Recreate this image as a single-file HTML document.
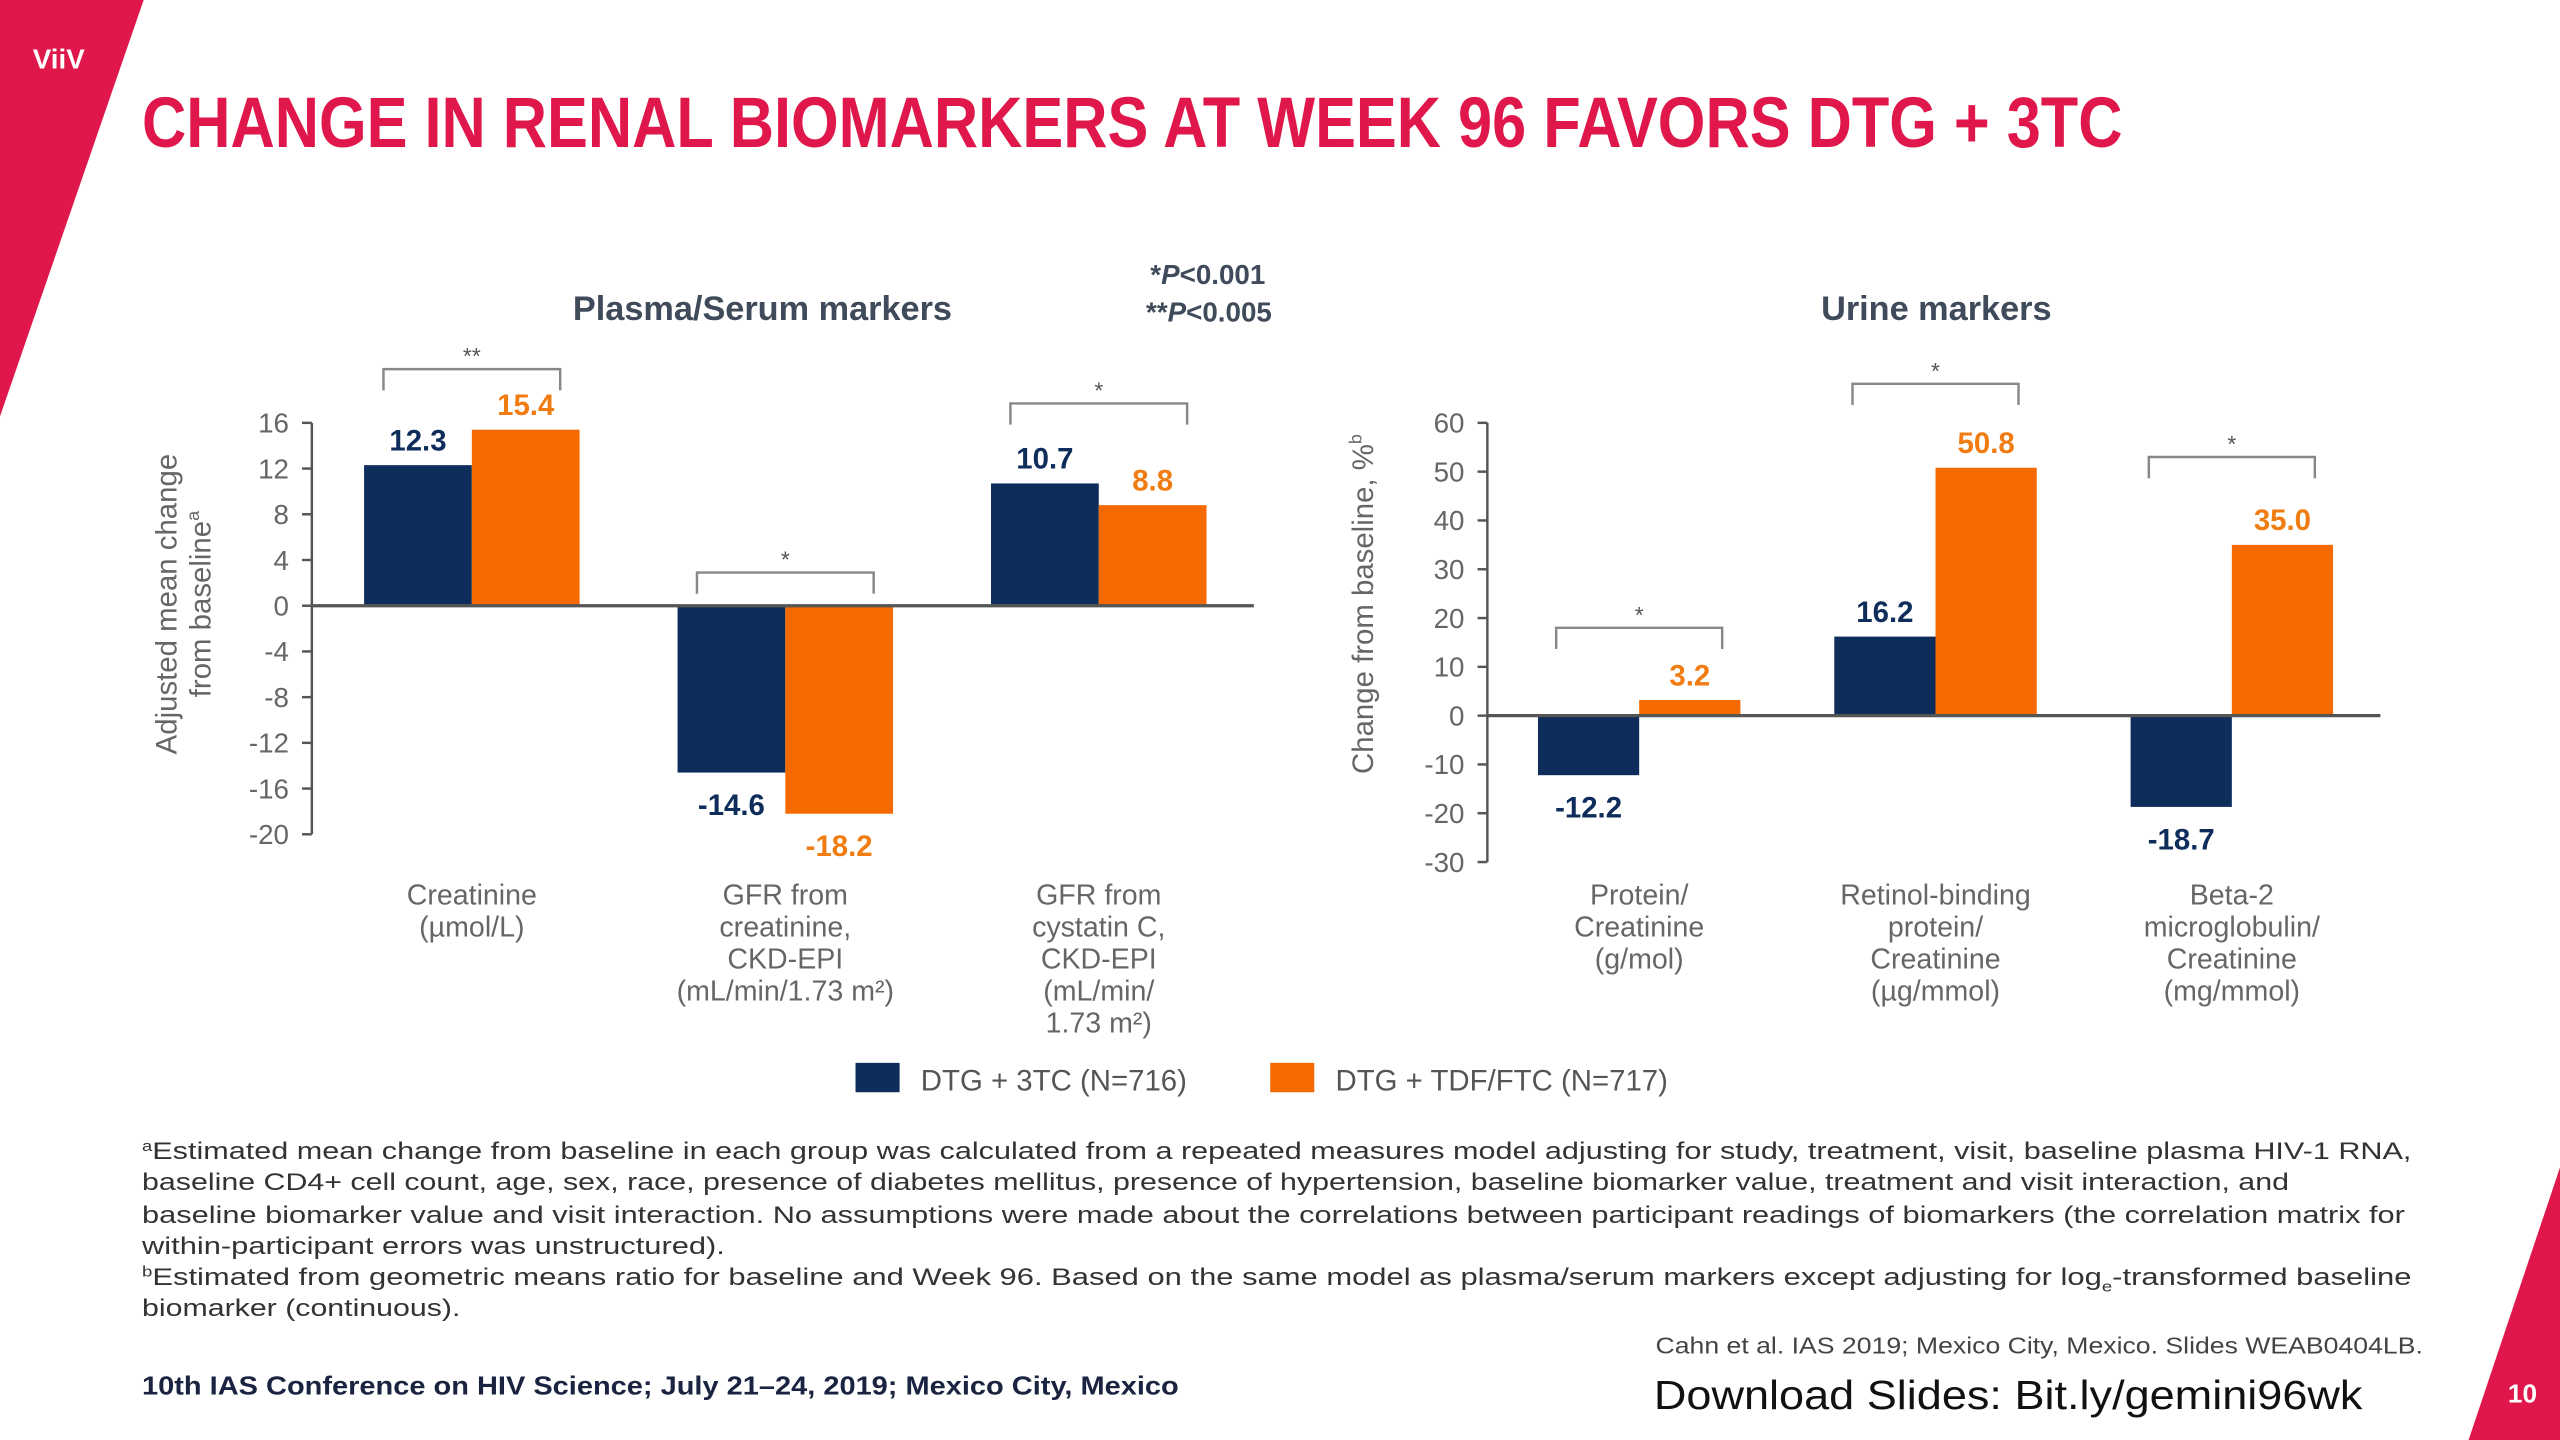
<!DOCTYPE html>
<html><head><meta charset="utf-8">
<style>
html,body{margin:0;padding:0;background:#fff;}
svg{display:block;}
text{font-family:"Liberation Sans",sans-serif;}
</style></head>
<body>
<svg id="s" width="2560" height="1440" viewBox="0 0 1568 882" xmlns="http://www.w3.org/2000/svg">
<polygon points="0,0 88,0 0,255" fill="#e0174a"/>
<polygon points="1568,715 1568,882 1512,882" fill="#e0174a"/>
<text x="36" y="42" fill="#fff" font-size="17" font-weight="bold" text-anchor="middle">ViiV</text>
<text x="87" y="90" fill="#e0174a" font-size="44" font-weight="bold" textLength="1213" lengthAdjust="spacingAndGlyphs">CHANGE IN RENAL BIOMARKERS AT WEEK 96 FAVORS DTG + 3TC</text>
<text x="467" y="196" fill="#3f4a5a" font-size="21" font-weight="bold" text-anchor="middle">Plasma/Serum markers</text>
<text x="1186" y="196" fill="#3f4a5a" font-size="21" font-weight="bold" text-anchor="middle">Urine markers</text>
<text x="775" y="174" fill="#3f4a5a" font-size="17" font-weight="bold" text-anchor="end">*<tspan font-style="italic">P</tspan>&lt;0.001</text>
<text x="779" y="197" fill="#3f4a5a" font-size="17" font-weight="bold" text-anchor="end">**<tspan font-style="italic">P</tspan>&lt;0.005</text>
<text transform="translate(108,370) rotate(-90)" fill="#666" font-size="18" text-anchor="middle">Adjusted mean change</text>
<text transform="translate(129,370) rotate(-90)" fill="#666" font-size="18" text-anchor="middle">from baseline<tspan font-size="11" dy="-7">a</tspan></text>
<text transform="translate(841,370) rotate(-90)" fill="#666" font-size="18" text-anchor="middle">Change from baseline, %<tspan font-size="11" dy="-7">b</tspan></text>
<g id="charts"></g>
<rect x="524" y="651" width="27" height="18" fill="#0e2d5a"/>
<text x="564" y="668" fill="#555" font-size="18">DTG + 3TC (N=716)</text>
<rect x="778" y="651" width="27" height="18" fill="#f56a00"/>
<text x="818" y="668" fill="#555" font-size="18">DTG + TDF/FTC (N=717)</text>
<g fill="#333" font-size="15">
<text x="87" y="710" textLength="1390" lengthAdjust="spacingAndGlyphs"><tspan font-size="9" dy="-5">a</tspan><tspan dy="5">Estimated mean change from baseline in each group was calculated from a repeated measures model adjusting for study, treatment, visit, baseline plasma HIV-1 RNA,</tspan></text>
<text x="87" y="729" textLength="1315" lengthAdjust="spacingAndGlyphs">baseline CD4+ cell count, age, sex, race, presence of diabetes mellitus, presence of hypertension, baseline biomarker value, treatment and visit interaction, and</text>
<text x="87" y="749" textLength="1386" lengthAdjust="spacingAndGlyphs">baseline biomarker value and visit interaction. No assumptions were made about the correlations between participant readings of biomarkers (the correlation matrix for</text>
<text x="87" y="768" textLength="357" lengthAdjust="spacingAndGlyphs">within-participant errors was unstructured).</text>
<text x="87" y="787" textLength="1390" lengthAdjust="spacingAndGlyphs"><tspan font-size="9" dy="-5">b</tspan><tspan dy="5">Estimated from geometric means ratio for baseline and Week 96. Based on the same model as plasma/serum markers except adjusting for log</tspan><tspan font-size="9" dy="4">e</tspan><tspan dy="-4">-transformed baseline</tspan></text>
<text x="87" y="806" textLength="195" lengthAdjust="spacingAndGlyphs">biomarker (continuous).</text>
</g>
<text x="1484" y="829" fill="#444" font-size="14" text-anchor="end" textLength="470" lengthAdjust="spacingAndGlyphs">Cahn et al. IAS 2019; Mexico City, Mexico. Slides WEAB0404LB.</text>
<text x="87" y="854" fill="#1a2340" font-size="16" font-weight="bold" textLength="635" lengthAdjust="spacingAndGlyphs">10th IAS Conference on HIV Science; July 21–24, 2019; Mexico City, Mexico</text>
<text x="1013" y="863" fill="#111" font-size="25" textLength="434" lengthAdjust="spacingAndGlyphs">Download Slides: Bit.ly/gemini96wk</text>
<text x="1545" y="859" fill="#fff" font-size="16" font-weight="bold" text-anchor="middle">10</text>
</svg>
<script>
// Left chart data
const leftCategories = [["Creatinine","(µmol/L)"],["GFR from","creatinine,","CKD-EPI","(mL/min/1.73 m²)"],["GFR from","cystatin C,","CKD-EPI","(mL/min/","1.73 m²)"]];
const leftDtg3tc = [12.3, -14.6, 10.7];
const leftDtgTdf = [15.4, -18.2, 8.8];
const leftTicks = [16,12,8,4,0,-4,-8,-12,-16,-20];
const leftSig = ["**","*","*"];
const leftSigLevel = [20.7, 2.9, 17.7];
// Right chart data
const rightCategories = [["Protein/","Creatinine","(g/mol)"],["Retinol-binding","protein/","Creatinine","(µg/mmol)"],["Beta-2","microglobulin/","Creatinine","(mg/mmol)"]];
const rightDtg3tc = [-12.2, 16.2, -18.7];
const rightDtgTdf = [3.2, 50.8, 35.0];
const rightTicks = [60,50,40,30,20,10,0,-10,-20,-30];
const rightSig = ["*","*","*"];
const rightSigLevel = [18, 68, 53];

const NS="http://www.w3.org/2000/svg";
const g=document.getElementById('charts');
function mk(tag,attrs,parent){const e=document.createElementNS(NS,tag);for(const k in attrs)e.setAttribute(k,attrs[k]);(parent||g).appendChild(e);return e;}

function drawChart(cfg){
  const y=v=>cfg.y0+(v-cfg.vmin)*(cfg.y1-cfg.y0)/(cfg.vmax-cfg.vmin);
  const axis=mk('line',{x1:cfg.ax,x2:cfg.ax,y1:y(cfg.vmax),y2:y(cfg.vmin),stroke:'#555','stroke-width':1.5});
  
  
  cfg.ticks.forEach(t=>{
    const tl=mk('line',{x1:cfg.ax-6,x2:cfg.ax,y1:y(t),y2:y(t),stroke:'#555','stroke-width':1.5});
    
    
    const tx=mk('text',{x:cfg.ax-14,y:y(t)+6,'text-anchor':'end','font-size':17,fill:'#666'});
    tx.textContent=t;
    
    
  });
  const bw=cfg.bw;
  cfg.cats.forEach((c,i)=>{
    const cx=cfg.c0+i*cfg.step;
    [[cfg.s1[i],'#0e2d5a',cx-bw],[cfg.s2[i],'#f56a00',cx]].forEach((d,j)=>{
      const v=d[0];
      const top=Math.min(y(v),y(0)),h=Math.abs(y(v)-y(0));
      const r=mk('rect',{x:d[2],y:top,width:bw,height:h,fill:d[1]});
      
      
      const ly=v>=0?y(v)-9:y(v)+26;
      const lt=mk('text',{x:d[2]+bw/2,y:ly,'text-anchor':'middle','font-size':18,'font-weight':'bold',fill:j?'#f07c12':'#0e2d5a'});
      lt.textContent=v.toFixed(1);
      
      
    });
    c.forEach((line,k)=>{
      const ct=mk('text',{x:cx,y:cfg.labY+k*19.6,'text-anchor':'middle','font-size':17.5,fill:'#666'});
      ct.textContent=line;
      
      
    });
    const by=y(cfg.sigLevel[i]);
    const br=mk('path',{d:`M${cx-bw*0.82},${by+13}V${by}H${cx+bw*0.82}V${by+13}`,fill:'none',stroke:'#888','stroke-width':1.5});
    
    
    const st=mk('text',{x:cx,y:by-3,'text-anchor':'middle','font-size':14,fill:'#555'});
    st.textContent=cfg.sig[i];
    
    
  });
  const zl=mk('line',{x1:cfg.ax,x2:cfg.zx2,y1:y(0),y2:y(0),stroke:'#555','stroke-width':2});
  
  
}
drawChart({name:'plasma',ax:191,zx2:768,y0:511,y1:259,vmin:-20,vmax:16,ticks:leftTicks,cats:leftCategories,s1:leftDtg3tc,s2:leftDtgTdf,sig:leftSig,sigLevel:leftSigLevel,c0:289,step:192,bw:66,labY:554});
drawChart({name:'urine',ax:911,zx2:1458,y0:528,y1:259,vmin:-30,vmax:60,ticks:rightTicks,cats:rightCategories,s1:rightDtg3tc,s2:rightDtgTdf,sig:rightSig,sigLevel:rightSigLevel,c0:1004,step:181.5,bw:62,labY:554});
</script>
</body></html>
